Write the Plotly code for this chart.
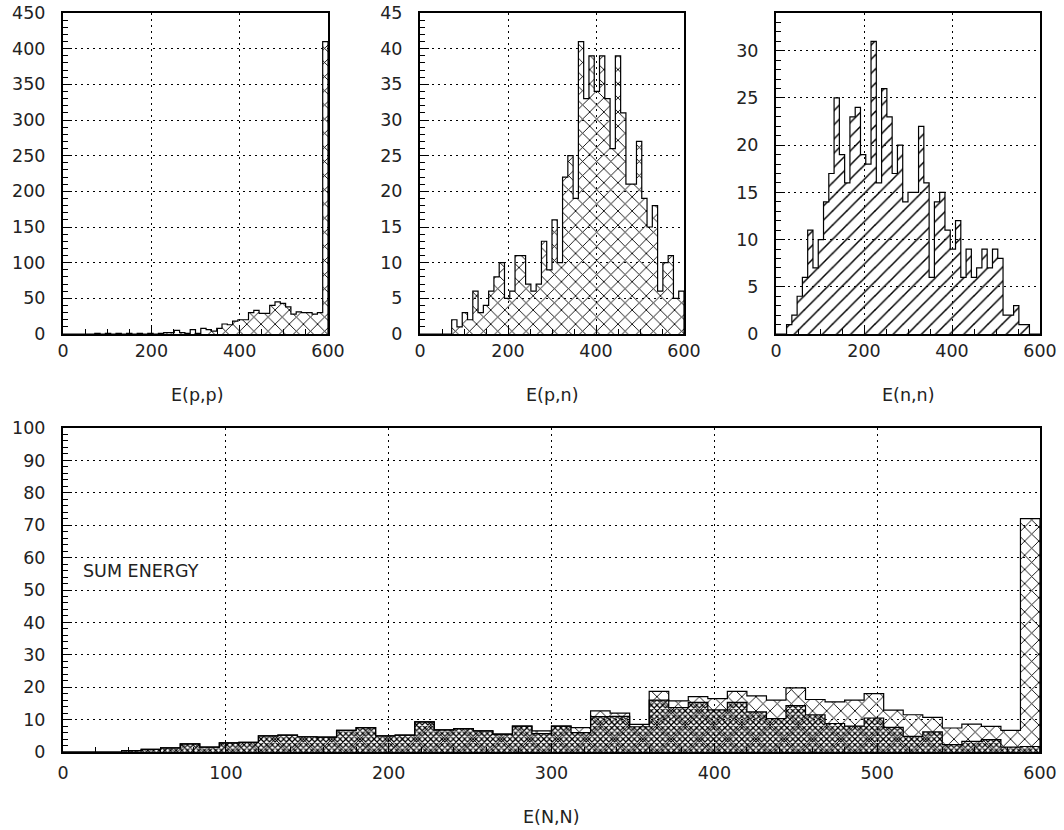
import plotly.graph_objects as go

# ---------------- data (50 bins of width 12 on 0..600) ----------------
bin_edges = [12 * i for i in range(51)]

e_pp = [0, 0, 0, 0, 0, 0, 1, 0, 1, 0, 1, 0, 1, 0, 1, 0, 1, 0, 1, 2,
        2, 5, 2, 1, 6, 1, 8, 6, 4, 8, 14, 13, 18, 20, 20, 30, 33, 29, 29, 40,
        45, 43, 38, 28, 31, 30, 30, 28, 30, 410]

e_pn = [0, 0, 0, 0, 0, 0, 2, 1, 3, 2, 6, 3, 4, 6, 8, 10, 5, 6, 11, 11,
        7, 6, 7, 13, 9, 16, 10, 22, 25, 19, 41, 33, 39, 34, 39, 33, 26, 39, 31, 21,
        21, 27, 19, 15, 18, 6, 10, 11, 5, 6]

e_nn = [0, 0, 1, 2, 4, 6, 11, 7, 10, 14, 17, 25, 19, 16, 23, 24, 19, 18, 31, 16,
        26, 23, 17, 20, 14, 15, 15, 22, 16, 6, 14, 15, 11, 9, 12, 6, 9, 6, 7, 9,
        7, 9, 8, 2, 2, 3, 1, 1, 0, 0]

sum_total = [0, 0, 0, 0.4, 0.8, 1.3, 2.5, 1.5, 2.8, 3.0, 5.0, 5.2, 4.7, 4.6, 6.7, 7.5, 5.0, 5.2, 9.3, 6.8,
             7.2, 6.5, 5.5, 8.0, 6.5, 8.0, 7.5, 12.7, 12.0, 8.5, 18.7, 15.8, 17.1, 16.5, 18.7, 17.3, 16.0, 19.8, 16.2, 15.5,
             16.0, 18.0, 12.9, 11.5, 10.7, 7.4, 8.6, 7.9, 6.7, 72.0]

sum_dark = [0, 0, 0, 0.4, 0.8, 1.3, 2.5, 1.5, 2.8, 3.0, 5.0, 5.2, 4.7, 4.6, 6.7, 7.5, 5.0, 5.2, 9.3, 6.8,
            7.2, 6.5, 5.5, 8.0, 5.7, 8.0, 6.0, 10.9, 11.0, 7.8, 16.0, 13.7, 15.3, 13.0, 15.3, 12.4, 10.3, 14.3, 11.5, 8.8,
            8.0, 10.5, 7.6, 4.8, 6.2, 2.3, 3.3, 3.8, 1.5, 1.7]

titles = ["E(p,p)", "E(p,n)", "E(n,n)", "E(N,N)"]

# ---------------- helpers ----------------
centers = [(bin_edges[i] + bin_edges[i + 1]) / 2 for i in range(50)]
widths = [bin_edges[i + 1] - bin_edges[i] for i in range(50)]
FONT = "DejaVu Sans"
W, H = 1064, 830


def hist_traces(values, xa, ya, shape, size, solidity):
    bar = go.Bar(x=centers, y=values, width=widths, xaxis=xa, yaxis=ya,
                 marker=dict(color="black", line=dict(width=0),
                             pattern=dict(shape=shape, size=size, solidity=solidity,
                                          fgcolor="black", fillmode="replace")),
                 showlegend=False, hoverinfo="skip")
    xs = [bin_edges[0]] + bin_edges
    ys = [0] + list(values) + [0]
    step = go.Scatter(x=xs, y=ys, mode="lines", line=dict(color="black", width=1.2, shape="hv"),
                      xaxis=xa, yaxis=ya, showlegend=False, hoverinfo="skip")
    return [bar, step]


def axis(rng, dtick, minor, domain, anchor, standoff=0):
    return dict(domain=domain, range=rng, anchor=anchor, tick0=0, dtick=dtick,
                showline=True, linecolor="black", linewidth=2, mirror=True,
                ticks="inside", ticklen=9, tickwidth=1, tickcolor="black",
                ticklabelstandoff=standoff,
                showgrid=True, gridcolor="black", gridwidth=1, griddash="2px,4px",
                zeroline=False, fixedrange=True,
                minor=dict(dtick=minor, tick0=0, ticks="inside", ticklen=5, tickwidth=1,
                           tickcolor="black", showgrid=False),
                tickfont=dict(family=FONT, size=17.5, color="#222"))


def px(a, b, total):
    return [a / total, b / total]


def py(top, bottom):
    return [1 - bottom / H, 1 - top / H]


fig = go.Figure()
for t in hist_traces(e_pp, "x", "y", "x", 10, 0.17):
    fig.add_trace(t)
for t in hist_traces(e_pn, "x2", "y2", "x", 10, 0.17):
    fig.add_trace(t)
for t in hist_traces(e_nn, "x3", "y3", "/", 10, 0.15):
    fig.add_trace(t)
for t in hist_traces(sum_total, "x4", "y4", "x", 10, 0.17):
    fig.add_trace(t)
for t in hist_traces(sum_dark, "x4", "y4", "x", 4, 0.5):
    fig.add_trace(t)

top_y = py(13, 334)
bot_y = py(428, 752)

fig.update_layout(
    width=W, height=H, margin=dict(l=0, r=0, t=0, b=0, autoexpand=False),
    paper_bgcolor="white", plot_bgcolor="white", barmode="overlay", bargap=0,
    xaxis=axis([0, 600], 200, 50, px(63, 328, W), "y"),
    yaxis=axis([0, 450], 50, 10, top_y, "x", 12),
    xaxis2=axis([0, 600], 200, 50, px(420, 684, W), "y2"),
    yaxis2=axis([0, 45], 5, 1, top_y, "x2", 12),
    xaxis3=axis([0, 600], 200, 50, px(776, 1040, W), "y3"),
    yaxis3=axis([0, 34], 5, 1, top_y, "x3", 12),
    xaxis4=axis([0, 600], 100, 20, px(63, 1040, W), "y4", 4),
    yaxis4=axis([0, 100], 10, 2, bot_y, "x4", 12),
)

ann = []
for label, cx, cy in [(titles[0], 197, 395), (titles[1], 552, 395), (titles[2], 908, 395), (titles[3], 551, 817)]:
    ann.append(dict(text=label, x=cx / W, y=1 - cy / H, xref="paper", yref="paper",
                    showarrow=False, xanchor="center", yanchor="middle",
                    font=dict(family=FONT, size=17.5, color="#222")))
ann.append(dict(text="SUM ENERGY", x=11, y=56, xref="x4", yref="y4", showarrow=False,
                xanchor="left", yanchor="middle", font=dict(family=FONT, size=17.5, color="#222")))
fig.update_layout(annotations=ann)

fig.write_html("out.html", config={"displayModeBar": False})
